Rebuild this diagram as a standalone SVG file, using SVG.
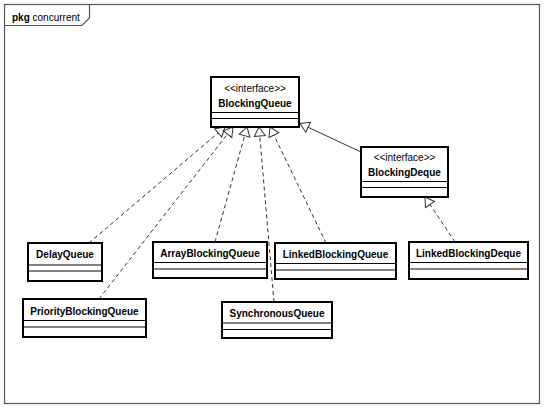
<svg xmlns="http://www.w3.org/2000/svg" width="544" height="408" viewBox="0 0 544 408">
<style>
.box{fill:#fff;stroke:#000;stroke-width:2}
.sep{stroke:#000;stroke-width:1}
.name{font-family:"Liberation Sans",Arial,sans-serif;font-size:10px;font-weight:bold;text-anchor:middle;fill:#000}
.st{font-family:"Liberation Sans",Arial,sans-serif;font-size:10px;text-anchor:middle;fill:#000}
.dep{fill:none;stroke:#333;stroke-width:1;stroke-dasharray:4,3;marker-end:url(#tri)}
.gen{fill:none;stroke:#333;stroke-width:1;marker-end:url(#tri)}
.frame{fill:none;stroke:#555;stroke-width:1.2}
</style>
<defs>
<marker id="tri" markerUnits="userSpaceOnUse" markerWidth="12" markerHeight="13" refX="9" refY="6" orient="auto" overflow="visible">
<path d="M0,0.5 L9,6 L0,11.5 Z" fill="#fff" stroke="#333" stroke-width="1" stroke-dasharray="none"/>
</marker>
</defs>
<rect width="544" height="408" fill="#fff"/>
<g id="frame">
<rect class="frame" x="4.5" y="4.5" width="535" height="399"/>
<path class="frame" d="M4.5,25.5 L82,25.5 L89.5,18 L89.5,4.5"/>
<text x="12" y="21" font-family="Liberation Sans,Arial,sans-serif" font-size="10" fill="#000"><tspan font-weight="bold">pkg</tspan> concurrent</text>
</g>
<g id="connectors">
<line class="dep" x1="89" y1="243" x2="225" y2="127"/>
<line class="dep" x1="99" y1="299" x2="233" y2="127"/>
<line class="dep" x1="215" y1="242" x2="247" y2="127"/>
<line class="dep" x1="274" y1="302" x2="259" y2="127"/>
<line class="dep" x1="326" y1="243" x2="270" y2="127"/>
<line class="dep" x1="455" y1="242" x2="425" y2="197"/>
<line class="gen" x1="361" y1="152" x2="300" y2="123.5"/>
</g>
<g id="BlockingQueue">
<rect class="box" x="211" y="77" width="88" height="50"/>
<line class="sep" x1="211" y1="112.5" x2="299" y2="112.5"/>
<line class="sep" x1="211" y1="118.5" x2="299" y2="118.5"/>
<text class="st" x="255" y="92">&lt;&lt;interface&gt;&gt;</text>
<text class="name" x="255" y="107">BlockingQueue</text>
</g>
<g id="BlockingDeque">
<rect class="box" x="361" y="147" width="87" height="50"/>
<line class="sep" x1="361" y1="181.5" x2="448" y2="181.5"/>
<line class="sep" x1="361" y1="187.5" x2="448" y2="187.5"/>
<text class="st" x="404.5" y="161">&lt;&lt;interface&gt;&gt;</text>
<text class="name" x="404.5" y="175.5">BlockingDeque</text>
</g>
<g id="DelayQueue">
<rect class="box" x="28" y="243" width="74" height="38"/>
<line class="sep" x1="28" y1="265" x2="102" y2="265"/>
<line class="sep" x1="28" y1="271" x2="102" y2="271"/>
<text class="name" x="65" y="258">DelayQueue</text>
</g>
<g id="PriorityBlockingQueue">
<rect class="box" x="23" y="299" width="123" height="38"/>
<line class="sep" x1="23" y1="320.5" x2="146" y2="320.5"/>
<line class="sep" x1="23" y1="327" x2="146" y2="327"/>
<text class="name" x="84.5" y="314.5">PriorityBlockingQueue</text>
</g>
<g id="ArrayBlockingQueue">
<rect class="box" x="153" y="242" width="114" height="36"/>
<line class="sep" x1="153" y1="262.5" x2="267" y2="262.5"/>
<line class="sep" x1="153" y1="269" x2="267" y2="269"/>
<text class="name" x="210" y="256.5">ArrayBlockingQueue</text>
</g>
<g id="SynchronousQueue">
<rect class="box" x="222" y="302" width="110" height="36"/>
<line class="sep" x1="222" y1="323" x2="332" y2="323"/>
<line class="sep" x1="222" y1="329.5" x2="332" y2="329.5"/>
<text class="name" x="277" y="317">SynchronousQueue</text>
</g>
<g id="LinkedBlockingQueue">
<rect class="box" x="275" y="243" width="121" height="36"/>
<line class="sep" x1="275" y1="263.5" x2="396" y2="263.5"/>
<line class="sep" x1="275" y1="270" x2="396" y2="270"/>
<text class="name" x="335.5" y="257.5">LinkedBlockingQueue</text>
</g>
<g id="LinkedBlockingDeque">
<rect class="box" x="409" y="242" width="119" height="37"/>
<line class="sep" x1="409" y1="262.5" x2="528" y2="262.5"/>
<line class="sep" x1="409" y1="269" x2="528" y2="269"/>
<text class="name" x="468.5" y="256.5">LinkedBlockingDeque</text>
</g>
</svg>
